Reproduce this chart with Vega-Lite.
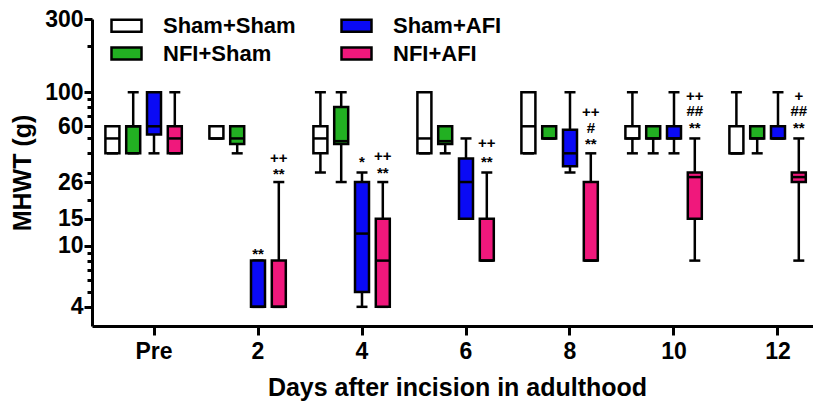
{
  "$schema": "https://vega.github.io/schema/vega-lite/v6.json",
  "width": 721,
  "height": 307,
  "autosize": "none",
  "padding": {"left": 92, "top": 19, "right": 0, "bottom": 79},
  "config": {"view": {"stroke": null}, "font": "Liberation Sans"},
  "datasets": {
    "boxes": [
      {"day": "Pre", "group": "Sham+Sham", "min": 40, "q1": 40, "median": 50, "q3": 60, "max": 60},
      {"day": "Pre", "group": "NFI+Sham", "min": 40, "q1": 40, "median": 60, "q3": 60, "max": 100},
      {"day": "Pre", "group": "Sham+AFI", "min": 40, "q1": 53, "median": 60, "q3": 100, "max": 100},
      {"day": "Pre", "group": "NFI+AFI", "min": 40, "q1": 40, "median": 50, "q3": 60, "max": 100},
      {"day": "2", "group": "Sham+Sham", "min": 50, "q1": 50, "median": 50, "q3": 60, "max": 60},
      {"day": "2", "group": "NFI+Sham", "min": 40, "q1": 46, "median": 50, "q3": 60, "max": 60},
      {"day": "2", "group": "Sham+AFI", "min": 4, "q1": 4, "median": 4, "q3": 8, "max": 8},
      {"day": "2", "group": "NFI+AFI", "min": 4, "q1": 4, "median": 4, "q3": 8, "max": 26},
      {"day": "4", "group": "Sham+Sham", "min": 30, "q1": 40, "median": 50, "q3": 60, "max": 100},
      {"day": "4", "group": "NFI+Sham", "min": 26, "q1": 46, "median": 48, "q3": 80, "max": 100},
      {"day": "4", "group": "Sham+AFI", "min": 4, "q1": 5, "median": 12, "q3": 26, "max": 30},
      {"day": "4", "group": "NFI+AFI", "min": 4, "q1": 4, "median": 8, "q3": 15, "max": 26},
      {"day": "6", "group": "Sham+Sham", "min": 40, "q1": 40, "median": 50, "q3": 100, "max": 100},
      {"day": "6", "group": "NFI+Sham", "min": 40, "q1": 46, "median": 48, "q3": 60, "max": 60},
      {"day": "6", "group": "Sham+AFI", "min": 15, "q1": 15, "median": 26, "q3": 37, "max": 50},
      {"day": "6", "group": "NFI+AFI", "min": 8, "q1": 8, "median": 8, "q3": 15, "max": 30},
      {"day": "8", "group": "Sham+Sham", "min": 40, "q1": 40, "median": 60, "q3": 100, "max": 100},
      {"day": "8", "group": "NFI+Sham", "min": 50, "q1": 50, "median": 50, "q3": 60, "max": 60},
      {"day": "8", "group": "Sham+AFI", "min": 30, "q1": 33, "median": 40, "q3": 57, "max": 100},
      {"day": "8", "group": "NFI+AFI", "min": 8, "q1": 8, "median": 8, "q3": 26, "max": 40},
      {"day": "10", "group": "Sham+Sham", "min": 40, "q1": 50, "median": 50, "q3": 60, "max": 100},
      {"day": "10", "group": "NFI+Sham", "min": 40, "q1": 50, "median": 50, "q3": 60, "max": 60},
      {"day": "10", "group": "Sham+AFI", "min": 40, "q1": 50, "median": 50, "q3": 60, "max": 100},
      {"day": "10", "group": "NFI+AFI", "min": 8, "q1": 15, "median": 28, "q3": 30, "max": 50},
      {"day": "12", "group": "Sham+Sham", "min": 40, "q1": 40, "median": 40, "q3": 60, "max": 100},
      {"day": "12", "group": "NFI+Sham", "min": 40, "q1": 50, "median": 50, "q3": 60, "max": 60},
      {"day": "12", "group": "Sham+AFI", "min": 50, "q1": 50, "median": 50, "q3": 60, "max": 100},
      {"day": "12", "group": "NFI+AFI", "min": 8, "q1": 26, "median": 28, "q3": 30, "max": 50}
    ],
    "notes": [
      {"day": "2", "group": "Sham+AFI", "label": "**", "pos": 8.8},
      {"day": "2", "group": "NFI+AFI", "label": "++", "pos": 37.1},
      {"day": "2", "group": "NFI+AFI", "label": "**", "pos": 29.2},
      {"day": "4", "group": "Sham+AFI", "label": "*", "pos": 34.9},
      {"day": "4", "group": "NFI+AFI", "label": "++", "pos": 38.2},
      {"day": "4", "group": "NFI+AFI", "label": "**", "pos": 30},
      {"day": "6", "group": "NFI+AFI", "label": "++", "pos": 46.4},
      {"day": "6", "group": "NFI+AFI", "label": "**", "pos": 35},
      {"day": "8", "group": "NFI+AFI", "label": "++", "pos": 74},
      {"day": "8", "group": "NFI+AFI", "label": "#", "pos": 58.3},
      {"day": "8", "group": "NFI+AFI", "label": "**", "pos": 45.7},
      {"day": "10", "group": "NFI+AFI", "label": "++", "pos": 95.2},
      {"day": "10", "group": "NFI+AFI", "label": "##", "pos": 75.2},
      {"day": "10", "group": "NFI+AFI", "label": "**", "pos": 58.7},
      {"day": "12", "group": "NFI+AFI", "label": "+", "pos": 95.2},
      {"day": "12", "group": "NFI+AFI", "label": "##", "pos": 75.2},
      {"day": "12", "group": "NFI+AFI", "label": "**", "pos": 58.7}
    ]
  },
  "data": {"name": "boxes"},
  "encoding": {
    "x": {
      "field": "day", "type": "nominal",
      "scale": {"domain": ["Pre", "2", "4", "6", "8", "10", "12"], "range": [0, 748], "paddingInner": 0, "paddingOuter": 0.0962},
      "axis": {
        "title": "Days after incision in adulthood", "labelAngle": 0,
        "tickSize": 9, "tickWidth": 3, "tickColor": "black",
        "domainWidth": 3, "domainColor": "black",
        "labelFontSize": 23, "labelFontWeight": "bold", "labelColor": "black", "labelPadding": 5,
        "titleFontSize": 25, "titleFontWeight": "bold", "titleColor": "black", "titlePadding": 12, "titleX": 365
      }
    },
    "xOffset": {
      "field": "group", "type": "nominal",
      "scale": {"domain": ["Sham+Sham", "NFI+Sham", "Sham+AFI", "NFI+AFI", "_"], "paddingInner": 0, "paddingOuter": 0}
    }
  },
  "layer": [
    {
      "mark": {"type": "rule", "color": "black", "strokeWidth": 2.5},
      "encoding": {
        "y": {
          "field": "min", "type": "quantitative", "title": "MHWT (g)",
          "scale": {"type": "log", "domain": [3, 300], "nice": false},
          "axis": {
            "title": "MHWT (g)",
            "values": [4, 5, 6, 7, 8, 9, 10, 15, 20, 26, 30, 40, 50, 60, 70, 80, 90, 100, 200, 300],
            "labelExpr": "indexof([4, 10, 15, 26, 60, 100, 300], datum.value) >= 0 ? '' + datum.value : ''",
            "tickSize": {"condition": {"test": "indexof([4, 10, 15, 26, 60, 100, 300], datum.value) >= 0", "value": 8}, "value": 5},
            "tickWidth": 3, "tickColor": "black",
            "domainWidth": 3, "domainColor": "black", "grid": false,
            "labelFontSize": 23, "labelFontWeight": "bold", "labelColor": "black", "labelPadding": 1,
            "titleFontSize": 25, "titleFontWeight": "bold", "titleColor": "black", "titlePadding": 9
          }
        },
        "y2": {"field": "max"}
      }
    },
    {
      "mark": {"type": "tick", "color": "black", "size": 11, "thickness": 2.5, "opacity": 1},
      "encoding": {"y": {"field": "min", "type": "quantitative", "title": "MHWT (g)"}}
    },
    {
      "mark": {"type": "tick", "color": "black", "size": 11, "thickness": 2.5, "opacity": 1},
      "encoding": {"y": {"field": "max", "type": "quantitative", "title": "MHWT (g)"}}
    },
    {
      "mark": {"type": "bar", "size": 14, "stroke": "black", "strokeWidth": 2.5, "opacity": 1},
      "encoding": {
        "y": {"field": "q1", "type": "quantitative", "title": "MHWT (g)"},
        "y2": {"field": "q3"},
        "fill": {
          "field": "group", "type": "nominal",
          "scale": {"domain": ["Sham+Sham", "NFI+Sham", "Sham+AFI", "NFI+AFI"], "range": ["#ffffff", "#22b022", "#0a0af5", "#f0187c"]},
          "legend": {
            "orient": "none", "legendX": 18, "legendY": -10, "columns": 2, "title": null,
            "symbolType": "M-1,-0.4H1V0.4H-1Z", "symbolSize": 900,
            "symbolStrokeColor": "black", "symbolStrokeWidth": 2.5, "symbolOpacity": 1,
            "labelFontSize": 22, "labelFontWeight": "bold", "labelColor": "black", "labelOffset": 20,
            "columnPadding": 40, "rowPadding": 0, "padding": 0
          }
        }
      }
    },
    {
      "mark": {"type": "tick", "color": "black", "size": 14, "thickness": 2.5, "opacity": 1},
      "encoding": {"y": {"field": "median", "type": "quantitative", "title": "MHWT (g)"}}
    },
    {
      "data": {"name": "notes"},
      "mark": {"type": "text", "fontSize": 15, "fontWeight": "bold", "color": "black", "align": "center", "baseline": "middle"},
      "encoding": {
        "y": {"field": "pos", "type": "quantitative", "title": "MHWT (g)"},
        "text": {"field": "label"}
      }
    }
  ]
}
